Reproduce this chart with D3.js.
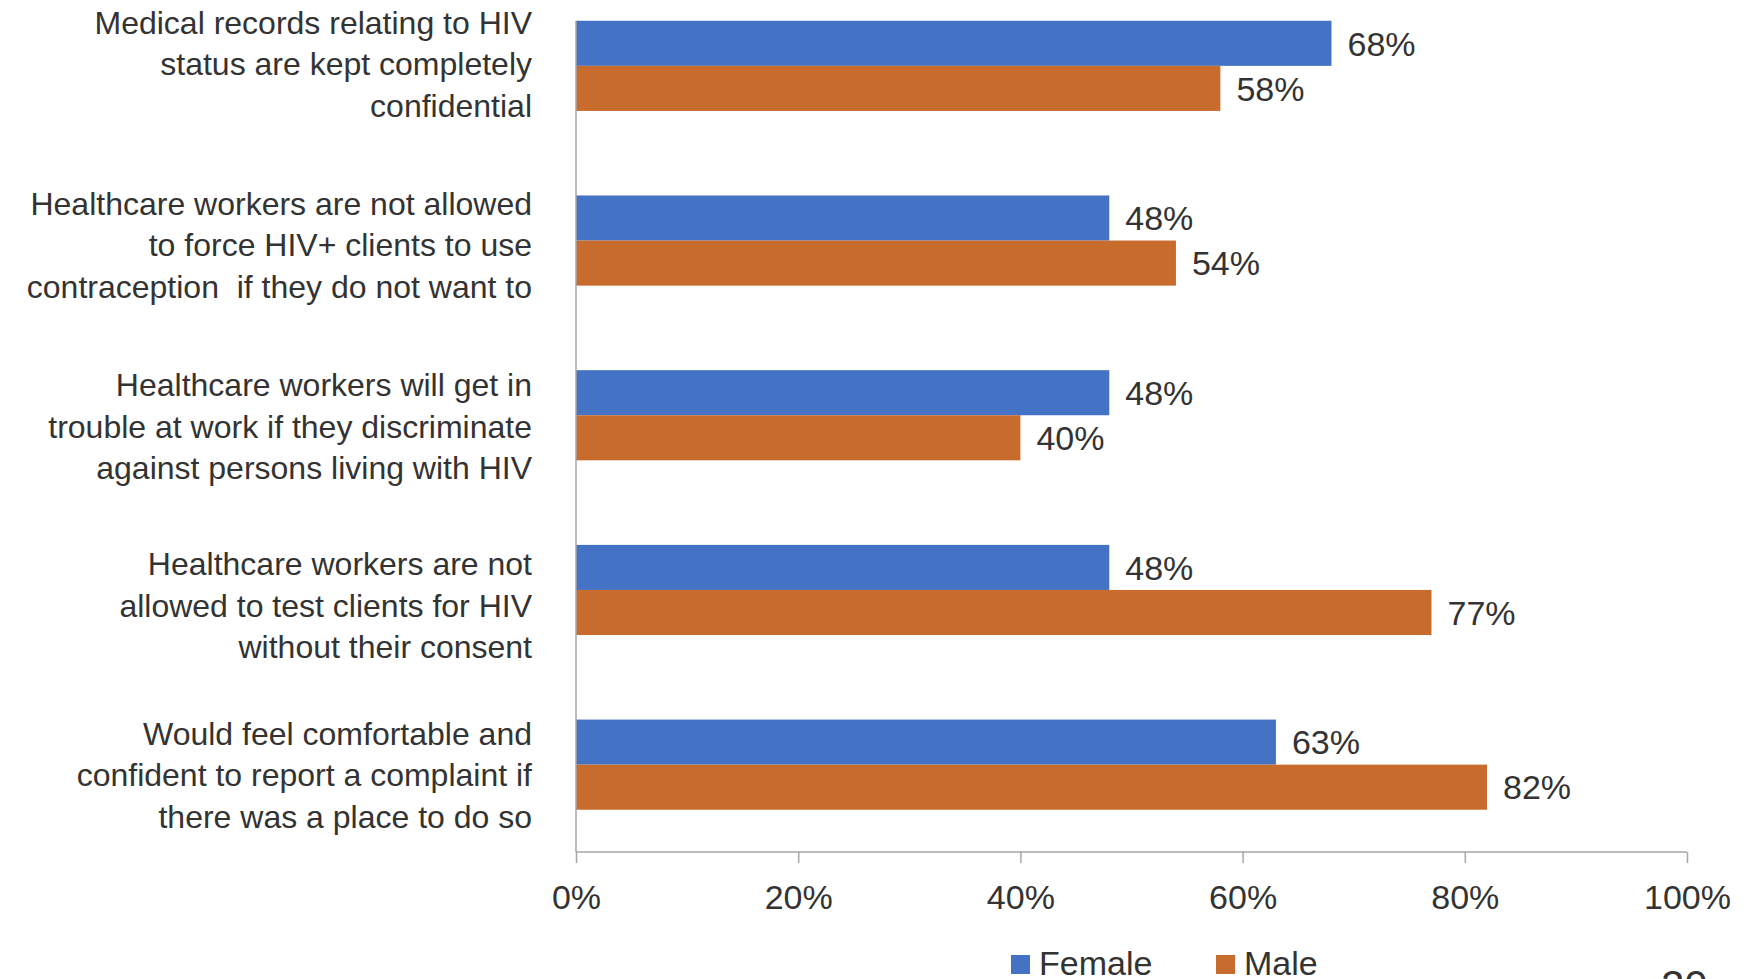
<!DOCTYPE html>
<html>
<head>
<meta charset="utf-8">
<script src="https://cdn.jsdelivr.net/npm/d3@7"></script>
<style>
  html, body { margin: 0; padding: 0; background: #fff; }
  svg { display: block; font-family: "Liberation Sans", Arial, sans-serif; }
</style>
</head>
<body>
<svg id="chart" width="1750" height="979"></svg>
<script>
// ---- data ----
const categories = [
  ["Medical records relating to HIV", "status are kept completely", "confidential"],
  ["Healthcare workers are not allowed", "to force HIV+ clients to use", "contraception  if they do not want to"],
  ["Healthcare workers will get in", "trouble at work if they discriminate", "against persons living with HIV"],
  ["Healthcare workers are not", "allowed to test clients for HIV", "without their consent"],
  ["Would feel comfortable and", "confident to report a complaint if", "there was a place to do so"]
];
const seriesNames = ["Female", "Male"];
const femaleValues = [0.68, 0.48, 0.48, 0.48, 0.63];
const maleValues = [0.58, 0.54, 0.40, 0.77, 0.82];
const tickValues = [0, 0.2, 0.4, 0.6, 0.8, 1.0];
const colors = ["#4472C4", "#C86C2E"];
const pageNumber = "20";

// ---- layout ----
const svg = d3.select("#chart");
const textColor = "#333333";
const axisColor = "#a6a6a6";
// small vertical nudges of the category label blocks (layout only)
const labelShift = [-1, 5, 12, 16, 11];

const x = d3.scaleLinear().domain([0, 1]).range([576, 1687]);
const y = d3.scaleBand().domain(d3.range(categories.length)).range([-21.5, 852])
  .paddingInner(0.484).paddingOuter(0.242);
const ySub = d3.scaleBand().domain(seriesNames).range([0, y.bandwidth()]);

const seriesValues = [femaleValues, maleValues];

// bars
const groups = svg.selectAll("g.grp").data(categories).join("g")
  .attr("class", "grp")
  .attr("transform", (d, i) => `translate(0,${y(i)})`);

seriesNames.forEach((name, si) => {
  groups.append("rect")
    .attr("x", x(0))
    .attr("y", ySub(name))
    .attr("width", (d, i) => x(seriesValues[si][i]) - x(0))
    .attr("height", ySub.bandwidth())
    .attr("fill", colors[si]);
  groups.append("text")
    .attr("x", (d, i) => x(seriesValues[si][i]) + 16)
    .attr("y", ySub(name) + ySub.bandwidth() / 2)
    .attr("dy", "0.36em")
    .attr("font-size", 34)
    .attr("fill", textColor)
    .text((d, i) => Math.round(seriesValues[si][i] * 100) + "%");
});

// category labels
const lineH = 41.5;
groups.each(function(lines, gi) {
  const g = d3.select(this);
  const c = y.bandwidth() / 2 + labelShift[gi];
  const t = g.append("text")
    .attr("text-anchor", "end")
    .attr("font-size", 32)
    .attr("fill", textColor);
  lines.forEach((ln, k) => {
    t.append("tspan")
      .attr("x", 532)
      .attr("y", c + (k - (lines.length - 1) / 2) * lineH)
      .attr("dy", "0.33em")
      .style("white-space", "pre")
      .text(ln);
  });
});

// y axis line
svg.append("line")
  .attr("x1", x(0)).attr("x2", x(0))
  .attr("y1", y(0)).attr("y2", y.range()[1])
  .attr("stroke", axisColor).attr("stroke-width", 1.5);

// x axis
const xAxis = d3.axisBottom(x)
  .tickValues(tickValues)
  .tickFormat(d3.format(".0%"))
  .tickSize(11)
  .tickPadding(22);
const ax = svg.append("g")
  .attr("transform", `translate(0,${y.range()[1]})`)
  .call(xAxis);
ax.select(".domain").attr("stroke", axisColor).attr("stroke-width", 1.5)
  .attr("d", `M${x(0)},0H${x(1)}`);
ax.selectAll(".tick line").attr("stroke", axisColor).attr("stroke-width", 1.5);
ax.selectAll(".tick text")
  .attr("font-size", 34)
  .attr("font-family", "Liberation Sans, Arial, sans-serif")
  .attr("fill", textColor);

// legend
const legendItems = [
  { name: seriesNames[0], color: colors[0], x: 1011 },
  { name: seriesNames[1], color: colors[1], x: 1216 }
];
const lg = svg.append("g");
legendItems.forEach(it => {
  lg.append("rect").attr("x", it.x).attr("y", 955).attr("width", 19).attr("height", 19).attr("fill", it.color);
  lg.append("text").attr("x", it.x + 28).attr("y", 975)
    .attr("font-size", 34).attr("fill", textColor).text(it.name);
});

// page number (cut off at bottom)
svg.append("text").attr("x", 1661).attr("y", 1000)
  .attr("font-size", 42).attr("fill", textColor).text(pageNumber);
</script>
</body>
</html>
